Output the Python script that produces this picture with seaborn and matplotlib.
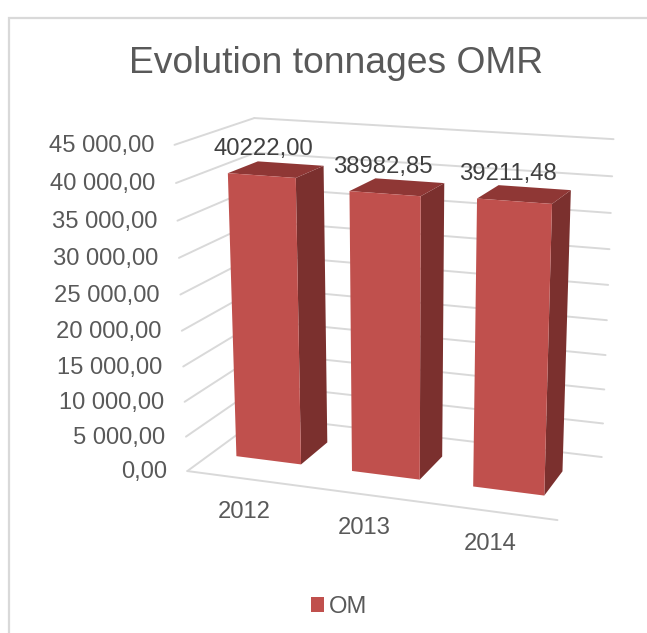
import numpy as np
import pandas as pd
import matplotlib
matplotlib.use('Agg')
import matplotlib.pyplot as plt
from matplotlib.patches import Rectangle
from matplotlib.transforms import Transform
import seaborn as sns

# Data
years = ['2012', '2013', '2014']
tonnages = [40222.00, 38982.85, 39211.48]
value_labels = ['40222,00', '38982,85', '39211,48']
series_name = 'OM'
tick_values = [0, 5000, 10000, 15000, 20000, 25000, 30000, 35000, 40000, 45000]
tick_labels = ['0,00', '5 000,00', '10 000,00', '15 000,00', '20 000,00',
               '25 000,00', '30 000,00', '35 000,00', '40 000,00', '45 000,00']

FRONT = '#C0504D'
SIDE = '#7B302E'
TOP = '#8F3735'
GRID = '#D9D9D9'
TEXT = '#595959'
LABEL = '#404040'

W, H = 647, 633
V_MAX = tick_values[-1]
X_MIN, X_MAX = -0.5, len(years) - 0.5
DEPTH_FRONT, DEPTH_BACK = 0.31, 0.70

# Where the corners of the 3D box sit in the picture: (u, depth, v) -> pixel
box_corners = [
    ((0, 0, 0), (187, 470)), ((1, 0, 0), (558, 520)),
    ((0, 1, 0), (262, 417.5)), ((1, 1, 0), (601.5, 457)),
    ((0, 0, 1), (174, 143.7)), ((1, 0, 1), (568, 173)),
    ((0, 1, 1), (255, 119)), ((1, 1, 1), (613, 137)),
]


# Fit a perspective camera on the box corners
def fit_camera(corners):
    rows = []
    for (a, b, c), (px, py) in corners:
        rows.append([a, b, c, 1, 0, 0, 0, 0, -px * a, -px * b, -px * c, -px])
        rows.append([0, 0, 0, 0, a, b, c, 1, -py * a, -py * b, -py * c, -py])
    return np.linalg.svd(np.array(rows))[2][-1].reshape(3, 4)


CAMERA = fit_camera(box_corners)


class Plane(Transform):
    """2D data on one plane of the box -> display pixels. One of x, depth, value is fixed."""
    input_dims = 2
    output_dims = 2
    is_separable = False
    has_inverse = False

    def __init__(self, x=None, depth=None, value=None):
        super().__init__()
        self.fix_x, self.fix_depth, self.fix_value = x, depth, value

    def transform_non_affine(self, values):
        a, b = np.asarray(values, dtype=float).T
        if self.fix_depth is not None:
            x, d, v = a, np.full_like(a, self.fix_depth), b
        elif self.fix_x is not None:
            x, d, v = np.full_like(a, self.fix_x), a, b
        else:
            x, d, v = a, b, np.full_like(a, self.fix_value)
        u = (x - X_MIN) / (X_MAX - X_MIN)
        pts = np.column_stack([u, d, v / V_MAX, np.ones_like(u)]) @ CAMERA.T
        return np.column_stack([pts[:, 0] / pts[:, 2], H - pts[:, 1] / pts[:, 2]])


sns.set_theme(style='white')
plt.rcParams['font.family'] = ['Liberation Sans', 'DejaVu Sans']

df = pd.DataFrame({'year': years, 'tonnage': tonnages})

fig = plt.figure(figsize=(W / 100, H / 100), dpi=100, facecolor='white')
ax = fig.add_axes([0, 0, 1, 1])
sns.barplot(data=df, x='year', y='tonnage', color=FRONT, saturation=1, width=0.565,
            label=series_name, ax=ax, zorder=3)
bars = list(ax.patches)
ax.set_axis_off()

# Chart frame, runs off the picture on the right and at the bottom
fig.add_artist(Rectangle((9 / W, -0.1), 1.2, 1.1 - 18 / H, transform=fig.transFigure,
                         fill=False, edgecolor=GRID, linewidth=1.6))

# Gridlines on the back wall and the left wall
for v in tick_values:
    ax.plot([X_MIN, X_MAX], [v, v], color=GRID, lw=1.4, transform=Plane(depth=1), zorder=1)
    ax.plot([0, 1], [v, v], color=GRID, lw=1.4, transform=Plane(x=X_MIN), zorder=1)
ax.plot([X_MIN, X_MAX], [0, 0], color=GRID, lw=1.4, transform=Plane(depth=0), zorder=1)

# Bars: seaborn draws the front face, the side and the top follow from it
front = Plane(depth=DEPTH_FRONT)
depths = [DEPTH_FRONT, DEPTH_BACK, DEPTH_BACK, DEPTH_FRONT]
for bar in bars:
    x0, x1, val = bar.get_x(), bar.get_x() + bar.get_width(), bar.get_height()
    ax.fill(depths, [0, 0, val, val], color=SIDE, lw=0, transform=Plane(x=x1), zorder=2)
    ax.fill([x0, x1, x1, x0], [DEPTH_FRONT, DEPTH_FRONT, DEPTH_BACK, DEPTH_BACK],
            color=TOP, lw=0, transform=Plane(value=val), zorder=2)
    bar.set_transform(front)
    bar.set_linewidth(0)

# Text
for v, label in zip(tick_values, tick_labels):
    ax.annotate(label, xy=(X_MIN, v), xycoords=Plane(depth=0), xytext=(-20.5, -1),
                textcoords='offset pixels', ha='right', va='center',
                fontsize=17.1, color=TEXT)
for i, (year, val, label) in enumerate(zip(years, tonnages, value_labels)):
    ax.annotate(label, xy=(i, val), xycoords=front, xytext=(2 - 4 * i, 27),
                textcoords='offset pixels', ha='center', va='center',
                fontsize=17.2, color=LABEL, zorder=5)
    ax.annotate(year, xy=(i, 0), xycoords=Plane(depth=0), xytext=(-1.5, -33),
                textcoords='offset pixels', ha='center', va='center',
                fontsize=17.1, color=TEXT)

fig.text(336 / W, 1 - 63.5 / H, 'Evolution tonnages OMR', ha='center', va='center',
         fontsize=26.8, color=TEXT)

ax.legend(loc='center', bbox_to_anchor=(339 / W, 1 - 607 / H), frameon=False, fontsize=17.1,
          handlelength=0.55, handleheight=0.55, handletextpad=0.2, labelcolor=TEXT)

fig.savefig('out.png', dpi=100)
